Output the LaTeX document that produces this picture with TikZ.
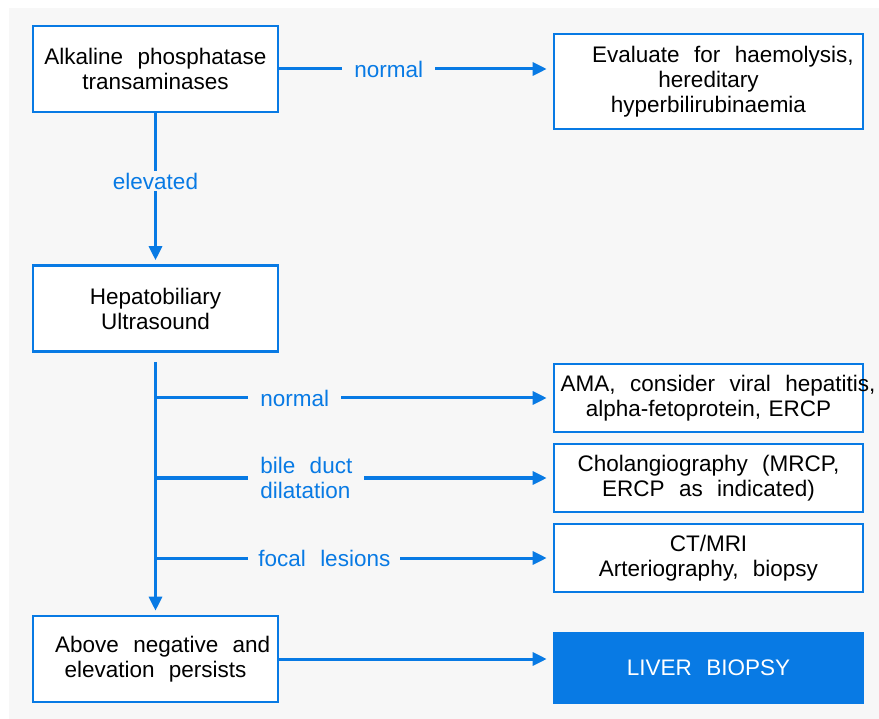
\documentclass[tikz,border=0pt]{standalone}
\usepackage{fontspec}
\setmainfont{Liberation Sans}[WordSpace=2.3]
\usetikzlibrary{arrows.meta,positioning}
\definecolor{flowblue}{RGB}{8,122,228}
\definecolor{paper}{RGB}{247,247,247}

\begin{document}
\begin{tikzpicture}[x=1pt, y=-1pt, >={Triangle[length=14pt,width=13pt]},
	shorten >=6pt, line width=3pt,
	box/.style={draw=flowblue, line width=2.6pt, fill=white, align=center, inner sep=0pt,
		font=\fontsize{22.5}{25}\selectfont},
	leftbox/.style={box, minimum width=245, minimum height=86},
	rightbox/.style={box, minimum width=309, minimum height=68},
	lbl/.style={text=flowblue, fill=paper, inner xsep=12pt, inner ysep=2pt, align=left,
		font=\fontsize{22.5}{25}\selectfont}]
	\useasboundingbox (0,0) rectangle (879,719);
	\fill [paper] (9,8) rectangle (879,719);

	% Left column
	\node [leftbox]	(alk)	at (155.5,69)	{Alkaline phosphatase\\transaminases};
	\node [leftbox]	(hep)	at (155.5,308.5)	{Hepatobiliary\\Ultrasound};
	\node [leftbox]	(above)	at (155.5,659)	{\ Above negative and\\elevation persists};

	% Right column
	\node [rightbox, minimum height=95]	(eval)	at (708.5,81.5)	{\ \ Evaluate for haemolysis,\\hereditary\\hyperbilirubinaemia};
	\node [rightbox, text width=296pt, inner xsep=6.5pt]	(ama)	at (708.5,398)
		{\mbox{AMA,\hspace{7pt} consider\hspace{7pt} viral\hspace{7pt} hepatitis,}\\alpha-fetoprotein, ERCP};
	\node [rightbox]	(chol)	at (708.5,478)	{Cholangiography (MRCP,\\ERCP as indicated)};
	\node [rightbox]	(ct)	at (708.5,558)	{CT/MRI\\Arteriography, biopsy};
	\node [rightbox, minimum height=70, fill=flowblue, text=white]	(liver)	at (708.5,668)	{LIVER BIOPSY};

	% Trunk below the ultrasound
	\coordinate (trunk) at (155.5,362);

	% Paths
	\draw [->, flowblue] (alk.east) -- (alk.east -| eval.west) node [lbl, pos=0.40] {normal};
	\draw [->, flowblue, shorten >=4pt] (alk) -- (hep) node [lbl, pos=0.45, inner xsep=2pt] {elevated};
	\draw [->, flowblue, shorten >=4pt] (trunk) -- (above);
	\draw [->, flowblue] (trunk |- ama.west) -- (ama.west) node [lbl, pos=0.23, anchor=west] {normal};
	\draw [->, flowblue] (trunk |- chol.west) -- (chol.west) node [lbl, pos=0.23, anchor=west] {bile duct\\dilatation};
	\draw [->, flowblue] (trunk |- ct.west) -- (ct.west) node [lbl, pos=0.23, anchor=west, inner xsep=10pt] {focal lesions};
	\draw [->, flowblue] (above.east) -- (above.east -| liver.west);
\end{tikzpicture}
\end{document}
